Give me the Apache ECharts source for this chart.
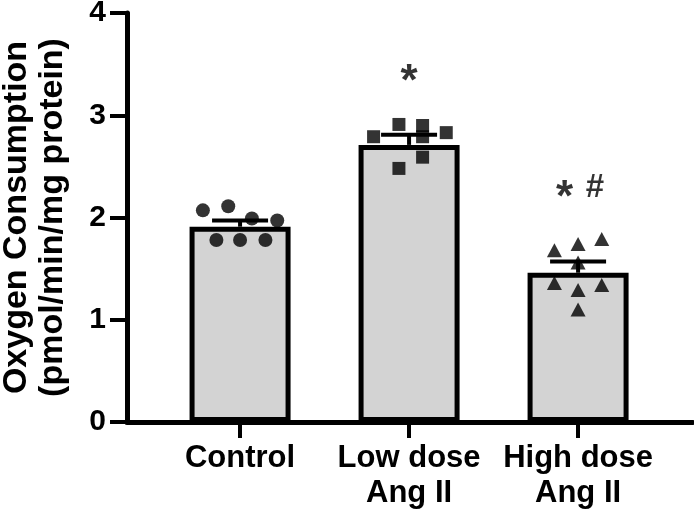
<!DOCTYPE html>
<html>
<head>
<meta charset="utf-8">
<script src="https://cdn.jsdelivr.net/npm/echarts@6/dist/echarts.min.js"></script>
<style>
html,body{margin:0;padding:0;background:#fff;}
#chart{width:694px;height:514px;}
</style>
</head>
<body>
<div id="chart"></div>
<script>
// ---- data ----
const categories = ['Control', 'Low dose\nAng II', 'High dose\nAng II'];
const yTicks = [0, 1, 2, 3, 4];
const meanValues = [1.91, 2.71, 1.46];
const semUpper = [1.97, 2.81, 1.57];
const controlPoints = [2.07, 2.11, 1.99, 1.97, 1.78, 1.78, 1.78];
const lowDosePoints = [2.79, 2.91, 2.90, 2.79, 2.83, 2.59, 2.48];
const highDosePoints = [1.68, 1.74, 1.79, 1.56, 1.36, 1.29, 1.34, 1.10];
const annotationText = ['*', '*', '#'];
const annotationGroup = [1, 1.92, 2.10];
const annotationValue = [3.42, 2.29, 2.29];

// ---- layout (horizontal scatter jitter, not data) ----
const controlJitter = [-0.22, -0.07, 0.07, 0.22, -0.14, 0, 0.15];
const lowDoseJitter = [-0.21, -0.06, 0.08, 0.08, 0.22, 0.08, -0.06];
const highDoseJitter = [-0.14, 0, 0.14, 0, -0.14, 0, 0.14, 0];

const FONT = "'Liberation Sans', Arial, Helvetica, sans-serif";
const chart = echarts.init(document.getElementById('chart'), null, {renderer: 'canvas'});

function pts(vals, jit, gi) { return vals.map((v, i) => [gi + jit[i], v]); }
const ptStyle = {color: '#000'};

const option = {
  animation: false,
  backgroundColor: '#fff',
  grid: {left: 127, right: 1, top: 13, bottom: 92, outerBoundsMode: 'none', containLabel: false},
  xAxis: {
    type: 'value', min: -0.669, max: 2.68,
    splitLine: {show: false},
    axisLine: {show: true, onZero: false, lineStyle: {color: '#000', width: 5}},
    axisTick: {show: true, customValues: [0, 1, 2], length: 16, lineStyle: {color: '#000', width: 4}},
    axisLabel: {
      show: true, customValues: [0, 1, 2],
      formatter: v => categories[Math.round(v)],
      color: '#000', fontFamily: FONT, fontWeight: 'bold', fontSize: 31, lineHeight: 35, margin: 19
    }
  },
  yAxis: {
    type: 'value', min: 0, max: 4, interval: 1,
    splitLine: {show: false},
    axisLine: {show: true, onZero: false, lineStyle: {color: '#000', width: 5}},
    axisTick: {show: true, length: 17, lineStyle: {color: '#000', width: 4}},
    axisLabel: {color: '#000', fontFamily: FONT, fontWeight: 'bold', fontSize: 30, margin: 21,
      formatter: v => yTicks.includes(v) ? String(v) : ''},
    name: 'Oxygen Consumption\n(pmol/min/mg protein)',
    nameLocation: 'middle', nameRotate: 90, nameGap: 56,
    nameTextStyle: {color: '#000', fontFamily: FONT, fontWeight: 'bold', fontSize: 34, lineHeight: 36}
  },
  series: [
    {
      type: 'bar', barWidth: 101, z: 2,
      data: meanValues.map((v, i) => [i, v]),
      itemStyle: {color: '#d3d3d3', borderColor: '#000', borderWidth: 5}
    },
    {
      type: 'custom', z: 3,
      data: meanValues.map((v, i) => [i, v, semUpper[i]]),
      renderItem: function (params, api) {
        const x = api.value(0);
        const p0 = api.coord([x, api.value(1)]);
        const p1 = api.coord([x, api.value(2)]);
        const hw = 28;
        const style = {stroke: '#000', lineWidth: 4};
        return {type: 'group', children: [
          {type: 'line', shape: {x1: p0[0], y1: p0[1], x2: p1[0], y2: p1[1]}, style: style},
          {type: 'line', shape: {x1: p1[0] - hw, y1: p1[1], x2: p1[0] + hw, y2: p1[1]}, style: style}
        ]};
      }
    },
    {type: 'scatter', z: 4, symbol: 'circle', symbolSize: 14, itemStyle: ptStyle,
      data: pts(controlPoints, controlJitter, 0)},
    {type: 'scatter', z: 4, symbol: 'rect', symbolSize: 13, itemStyle: ptStyle,
      data: pts(lowDosePoints, lowDoseJitter, 1)},
    {type: 'scatter', z: 4, symbol: 'triangle', symbolSize: [15, 14], itemStyle: ptStyle,
      data: pts(highDosePoints, highDoseJitter, 2)},
    {type: 'scatter', z: 5, symbolSize: 0, silent: true,
      data: annotationText.map((t, i) => ({value: [annotationGroup[i], annotationValue[i]], name: t,
        label: {offset: t === '*' ? [0, 11] : [0, 0], fontSize: t === '*' ? 44 : 33}})),
      label: {show: true, position: 'inside', formatter: p => p.name, color: '#000',
        fontFamily: FONT, fontWeight: 'bold'}}
  ]
};
chart.setOption(option);
</script>
</body>
</html>
